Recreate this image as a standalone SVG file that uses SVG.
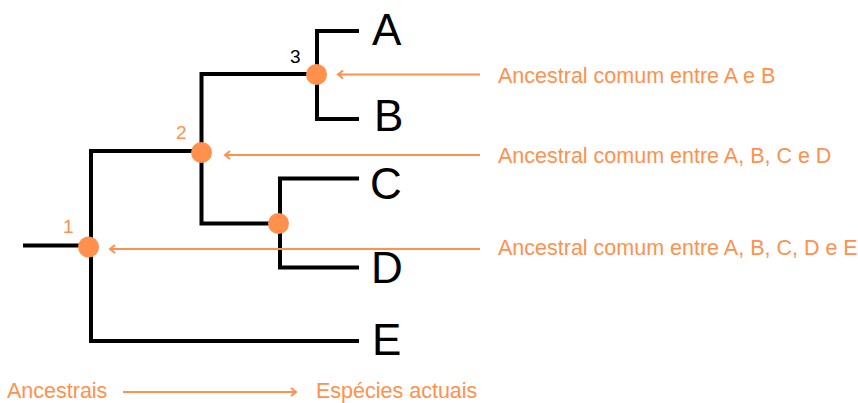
<svg xmlns="http://www.w3.org/2000/svg" width="858" height="403" viewBox="0 0 858 403">
<style>
.br{fill:none;stroke:#000;stroke-width:4;stroke-linecap:square;stroke-linejoin:miter}
.ar{fill:none;stroke:#ff914d;stroke-width:2}
.dot{fill:#ff914d}
.leaf{font-family:"Liberation Sans",Arial,sans-serif;font-size:44px;fill:#000}
.lbl{font-family:"Liberation Sans",Arial,sans-serif;font-size:21.5px;fill:#ff914d}
.num{font-family:"Liberation Sans",Arial,sans-serif;font-size:19px}
</style>
<defs>
<marker id="head" markerWidth="10" markerHeight="10" refX="7" refY="5" orient="auto" markerUnits="userSpaceOnUse">
<path d="M2,1 L7,5 L2,9" fill="none" stroke="#ff914d" stroke-width="2"/>
</marker>
</defs>
<g id="connectors">
<path class="br" d="M25,245.5 H90"/>
<path class="br" d="M357,341 H91 V151 H201.5 V74 H317"/>
<path class="br" d="M357,31 H317 V119 H357"/>
<path class="br" d="M201.5,151 V223.5 H280"/>
<path class="br" d="M357,178.5 H280 V267.5 H357"/>
<path class="ar" d="M480,74.5 H338" marker-end="url(#head)"/>
<path class="ar" d="M480,155 H225" marker-end="url(#head)"/>
<path class="ar" d="M480,249 H110" marker-end="url(#head)"/>
<path class="ar" d="M123,392 H296" marker-end="url(#head)"/>
</g>
<g id="node1"><circle class="dot" cx="88.5" cy="247" r="10.5"/><text class="num" x="63" y="233" fill="#ff914d">1</text></g>
<g id="node2"><circle class="dot" cx="201.5" cy="152.5" r="10.5"/><text class="num" x="176" y="139" fill="#ff914d">2</text></g>
<g id="node3"><circle class="dot" cx="316.5" cy="74.5" r="10.5"/><text class="num" x="290" y="63" fill="#000">3</text></g>
<g id="nodeCD"><circle class="dot" cx="278.5" cy="223.5" r="10.5"/></g>
<g id="leafA"><text class="leaf" x="372" y="45">A</text></g>
<g id="leafB"><text class="leaf" x="374" y="131">B</text></g>
<g id="leafC"><text class="leaf" x="370" y="199">C</text></g>
<g id="leafD"><text class="leaf" x="371" y="283">D</text></g>
<g id="leafE"><text class="leaf" x="372" y="355">E</text></g>
<g id="label3"><text class="lbl" x="498" y="82.5">Ancestral comum entre A e B</text></g>
<g id="label2"><text class="lbl" x="498" y="162.5">Ancestral comum entre A, B, C e D</text></g>
<g id="label1"><text class="lbl" x="498" y="255">Ancestral comum entre A, B, C, D e E</text></g>
<g id="axis"><text class="lbl" x="7" y="398">Ancestrais</text><text class="lbl" x="316" y="398">Espécies actuais</text></g>
</svg>
